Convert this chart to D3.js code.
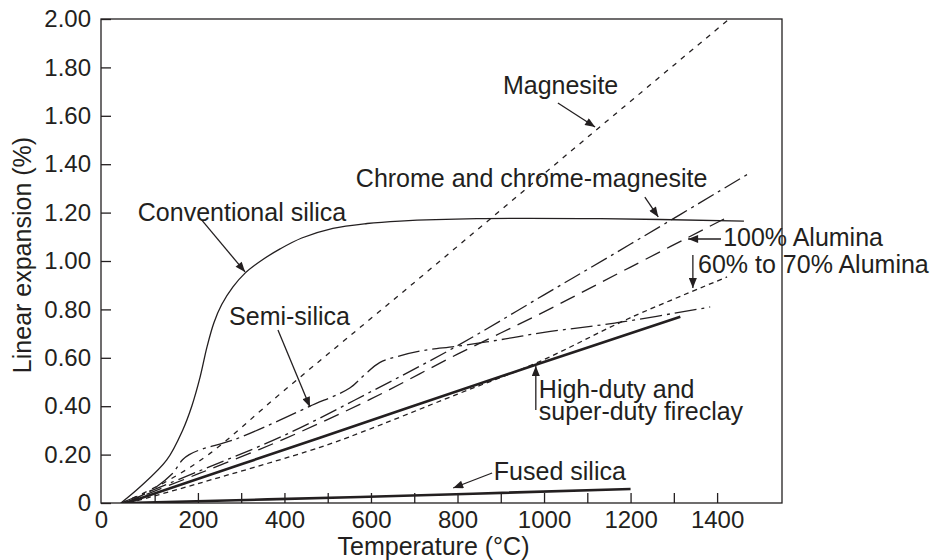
<!DOCTYPE html>
<html>
<head>
<meta charset="utf-8">
<script src="https://cdn.jsdelivr.net/npm/d3@7"></script>
<style>
  html, body { margin: 0; padding: 0; background: #fff; }
  svg text { font-family: "Liberation Sans", Arial, Helvetica, sans-serif; fill: #231f20; }
</style>
</head>
<body>
<svg id="chart" width="935" height="560"></svg>
<script>
// ---------- data (temperature °C, linear expansion %) ----------
const conventionalSilica = [[22,0],[66,0.066],[128,0.178],[165,0.302],[186,0.401],[205,0.52],[221,0.645],[237,0.745],[255,0.82],[281,0.893],[309,0.95],[345,1.0],[390,1.05],[440,1.095],[512,1.135],[591,1.155],[667,1.165],[845,1.175],[1130,1.175],[1462,1.165]];
const magnesite = [[25,0],[128,0.09],[228,0.205],[396,0.46],[706,0.92],[1113,1.53],[1428,2.0]];
const chrome = [[22,0],[200,0.13],[400,0.28],[600,0.46],[800,0.65],[1000,0.86],[1200,1.07],[1472,1.36]];
const alumina100 = [[30,0],[200,0.12],[400,0.265],[600,0.43],[800,0.615],[1000,0.79],[1200,0.975],[1423,1.18]];
const alumina6070 = [[40,0],[200,0.08],[482,0.23],[575,0.29],[800,0.45],[984,0.58],[1199,0.765],[1423,0.934]];
const semiSilica = [[31,0],[90,0.05],[140,0.12],[165,0.18],[180,0.2],[205,0.22],[281,0.26],[374,0.33],[459,0.40],[551,0.475],[585,0.53],[620,0.58],[660,0.605],[720,0.63],[800,0.648],[900,0.675],[1000,0.705],[1169,0.745],[1384,0.81]];
const fireclay = [[35,0],[482,0.27],[979,0.57],[1315,0.77]];
const fusedSilica = [[35,0],[575,0.025],[1200,0.058]];

const xTickValues = [100,200,300,400,500,600,700,800,900,1000,1100,1200,1300,1400];
const xLabelValues = [0,200,400,600,800,1000,1200,1400];
const xLabels = ["0","200","400","600","800","1000","1200","1400"];
const yTickValues = [0,0.2,0.4,0.6,0.8,1.0,1.2,1.4,1.6,1.8,2.0];
const yLabels = ["0","0.20","0.40","0.60","0.80","1.00","1.20","1.40","1.60","1.80","2.00"];

// annotations: text lines, label anchor (data), arrow start -> tip (data)
const annotations = [
  {text:["Conventional silica"], at:[61,1.165], from:[209,1.169], to:[309,0.955]},
  {text:["Magnesite"], at:[905,1.69], from:[1032,1.653], to:[1118,1.554]},
  {text:["Chrome and chrome-magnesite"], at:[565,1.306], from:[1233,1.264], to:[1264,1.182]},
  {text:["100% Alumina"], at:[1414,1.062], from:[1409,1.091], to:[1333,1.091]},
  {text:["60% to 70% Alumina"], at:[1356,0.95], from:[1344,1.025], to:[1344,0.888]},
  {text:["Semi-silica"], at:[272,0.736], from:[385,0.715], to:[459,0.397]},
  {text:["High-duty and","super-duty fireclay"], at:[988,0.434], from:[981,0.384], to:[981,0.566]},
  {text:["Fused silica"], at:[884,0.095], from:[880,0.124], to:[790,0.062]}
];

// ---------- layout ----------
const svg = d3.select("#chart");
const ink = "#231f20";
const mLeft = 101, mRight = 782, mTop = 19, mBottom = 503;
const x = d3.scaleLinear().domain([-24, 1550]).range([mLeft, mRight]);
const y = d3.scaleLinear().domain([0, 2]).range([mBottom, mTop]);

const defs = svg.append("defs");
defs.append("clipPath").attr("id","plot")
  .append("rect").attr("x",mLeft).attr("y",mTop).attr("width",mRight-mLeft).attr("height",mBottom-mTop);
defs.append("marker").attr("id","arrow")
  .attr("viewBox","0 0 10 8").attr("refX",10).attr("refY",4)
  .attr("markerWidth",11).attr("markerHeight",8).attr("markerUnits","userSpaceOnUse")
  .attr("orient","auto")
  .append("path").attr("d","M0,0 L10,4 L0,8 Z").attr("fill",ink);

// frame
svg.append("rect").attr("x",mLeft).attr("y",mTop).attr("width",mRight-mLeft).attr("height",mBottom-mTop)
  .attr("fill","none").attr("stroke",ink).attr("stroke-width",1.3);

// y axis
const yAxis = d3.axisLeft(y).tickValues(yTickValues)
  .tickFormat((d,i)=>yLabels[i]).tickSizeInner(-10).tickSizeOuter(0).tickPadding(10);
const gy = svg.append("g").attr("transform",`translate(${mLeft},0)`).call(yAxis);
gy.select(".domain").remove();
gy.selectAll("line").attr("stroke",ink).attr("stroke-width",1.3);
gy.selectAll("text").style("font-size","24px").attr("fill",ink);

// x axis ticks
const xAxis = d3.axisBottom(x).tickValues(xTickValues).tickFormat("").tickSizeInner(-10).tickSizeOuter(0);
const gx = svg.append("g").attr("transform",`translate(0,${mBottom})`).call(xAxis);
gx.select(".domain").remove();
gx.selectAll("line").attr("stroke",ink).attr("stroke-width",1.3);

// x labels (the "0" sits at the left frame corner as in the original)
const xLabelAxis = d3.axisBottom(x)
  .tickValues(xLabelValues.map(v => v === 0 ? x.domain()[0] : v))
  .tickFormat((d,i)=>xLabels[i]).tickSize(0).tickPadding(8);
const gxl = svg.append("g").attr("transform",`translate(0,${mBottom})`).call(xLabelAxis);
gxl.select(".domain").remove();
gxl.selectAll("text").style("font-size","24px").attr("fill",ink);

// axis titles
svg.append("text").attr("x",(mLeft+mRight)/2 - 8).attr("y",555).attr("text-anchor","middle")
  .style("font-size","25px").text("Temperature (°C)");
svg.append("text").attr("transform",`translate(31,${(mTop+mBottom)/2 - 6}) rotate(-90)`)
  .attr("text-anchor","middle").style("font-size","25px").text("Linear expansion (%)");

// curves
const line = d3.line().x(d=>x(d[0])).y(d=>y(d[1])).curve(d3.curveCatmullRom.alpha(0.5));
const series = [
  {data: conventionalSilica, w:1.3, dash:null},
  {data: magnesite, w:1.3, dash:"5,6"},
  {data: chrome, w:1.3, dash:"18,5,3,5"},
  {data: alumina100, w:1.3, dash:"16,8"},
  {data: alumina6070, w:1.3, dash:"5,4"},
  {data: semiSilica, w:1.3, dash:"22,5,3,5"},
  {data: fireclay, w:2.6, dash:null},
  {data: fusedSilica, w:2.6, dash:null}
];
const gl = svg.append("g").attr("clip-path","url(#plot)");
series.forEach(s=>{
  gl.append("path").attr("d", line(s.data)).attr("fill","none")
    .attr("stroke",ink).attr("stroke-width",s.w)
    .attr("stroke-dasharray",s.dash).attr("stroke-linecap","butt");
});

// annotations
annotations.forEach(a=>{
  a.text.forEach((s,i)=>{
    svg.append("text").attr("x",x(a.at[0])).attr("y",y(a.at[1]) + i*22)
      .style("font-size","25px").text(s);
  });
  svg.append("line")
    .attr("x1",x(a.from[0])).attr("y1",y(a.from[1]))
    .attr("x2",x(a.to[0])).attr("y2",y(a.to[1]))
    .attr("stroke",ink).attr("stroke-width",1.3).attr("marker-end","url(#arrow)");
});
</script>
</body>
</html>
